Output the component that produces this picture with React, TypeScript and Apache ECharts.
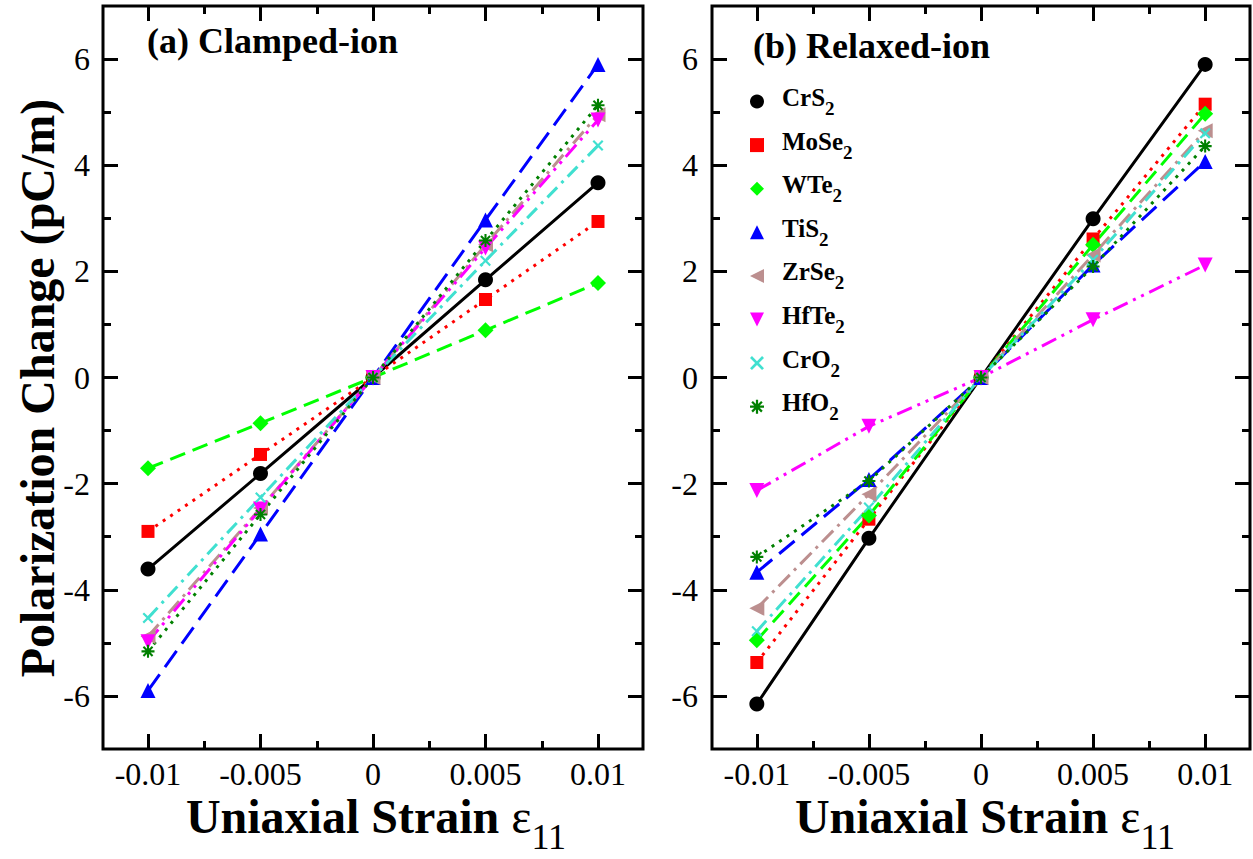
import React, { useEffect, useRef } from 'react';
import * as echarts from 'echarts';

// ---------- data ----------
const strains = [-0.01, -0.005, 0, 0.005, 0.01];
const materials = ['CrS2', 'MoSe2', 'WTe2', 'TiS2', 'ZrSe2', 'HfTe2', 'CrO2', 'HfO2'];

const clampedCrS2 = [-3.61, -1.81, 0, 1.84, 3.67];
const clampedMoSe2 = [-2.9, -1.45, 0, 1.47, 2.94];
const clampedWTe2 = [-1.71, -0.86, 0, 0.89, 1.78];
const clampedTiS2 = [-5.9, -2.95, 0, 2.97, 5.9];
const clampedZrSe2 = [-4.88, -2.46, 0, 2.5, 4.95];
const clampedHfTe2 = [-4.98, -2.48, 0, 2.44, 4.85];
const clampedCrO2 = [-4.53, -2.26, 0, 2.2, 4.37];
const clampedHfO2 = [-5.16, -2.58, 0, 2.58, 5.13];

const relaxedCrS2 = [-6.15, -3.03, 0, 2.99, 5.9];
const relaxedMoSe2 = [-5.37, -2.67, 0, 2.61, 5.15];
const relaxedWTe2 = [-4.95, -2.6, 0, 2.5, 4.97];
const relaxedTiS2 = [-3.67, -1.92, 0, 2.12, 4.07];
const relaxedZrSe2 = [-4.35, -2.2, 0, 2.31, 4.65];
const relaxedHfTe2 = [-2.13, -0.92, 0, 1.09, 2.12];
const relaxedCrO2 = [-4.78, -2.45, 0, 2.22, 4.6];
const relaxedHfO2 = [-3.38, -1.95, 0, 2.09, 4.36];

const clamped = [clampedCrS2, clampedMoSe2, clampedWTe2, clampedTiS2, clampedZrSe2, clampedHfTe2, clampedCrO2, clampedHfO2];
const relaxed = [relaxedCrS2, relaxedMoSe2, relaxedWTe2, relaxedTiS2, relaxedZrSe2, relaxedHfTe2, relaxedCrO2, relaxedHfO2];

const xTickLabels = [-0.01, -0.005, 0, 0.005, 0.01];
const xMinorTicks = [-0.0075, -0.0025, 0.0025, 0.0075];
const yTickLabels = [-6, -4, -2, 0, 2, 4, 6];
const yMinorTicks = [-5, -3, -1, 1, 3, 5];

// ---------- styles ----------
const SERIF = "'Liberation Serif', 'Times New Roman', serif";
const colors = ['#000000', '#ff0000', '#00ff00', '#0000ff', '#bc8f8f', '#ff00ff', '#40e0d0', '#008000'];
const dashes: any[] = ['solid', [3, 6], [16, 8], [20, 9], [16, 6, 3, 6], [16, 6, 3, 6, 3, 6], [14, 6, 3, 6], [3, 6]];
const X_PATH = 'path://M1.4,0L5,3.6L8.6,0L10,1.4L6.4,5L10,8.6L8.6,10L5,6.4L1.4,10L0,8.6L3.6,5L0,1.4Z';
const STAR_PATH =
  'path://M4.2,0L5.8,0L5.8,10L4.2,10Z M0,4.2L10,4.2L10,5.8L0,5.8Z ' +
  'M2.07,0.93L9.07,7.93L7.93,9.07L0.93,2.07Z M7.93,0.93L9.07,2.07L2.07,9.07L0.93,7.93Z';
const symbols = ['circle', 'rect', 'diamond', 'triangle', 'path://M0,5L10,0L10,10Z', 'path://M0,0L10,0L5,10Z', X_PATH, STAR_PATH];
const symbolSizes = [15, 13, 16, 15, 15, 15, 11, 13];

const grids = [
  { left: 103, top: 6, width: 540, height: 743 },
  { left: 712, top: 6, width: 538, height: 743 },
];

function tick(vals: number[], len: number) {
  return { show: true, inside: true, length: len, customValues: vals, lineStyle: { color: '#000', width: 3 } };
}

function axesFor(gi: number, labelMargin: number) {
  const cx = {
    gridIndex: gi, type: 'value', min: -0.012, max: 0.012,
    axisLine: { show: false, onZero: false }, splitLine: { show: false },
  };
  const cy = {
    gridIndex: gi, type: 'value', min: -7, max: 7,
    axisLine: { show: false, onZero: false }, splitLine: { show: false },
  };
  const xs = [
    {
      ...cx, position: 'bottom', axisTick: tick(xTickLabels, 15),
      axisLabel: {
        customValues: xTickLabels, formatter: (v: number) => String(v),
        fontSize: 32, fontFamily: SERIF, color: '#000', margin: 9,
      },
    },
    { ...cx, position: 'bottom', axisTick: tick(xMinorTicks, 8), axisLabel: { show: false } },
    { ...cx, position: 'top', axisTick: tick(xTickLabels, 15), axisLabel: { show: false } },
    { ...cx, position: 'top', axisTick: tick(xMinorTicks, 8), axisLabel: { show: false } },
  ];
  const ys = [
    {
      ...cy, position: 'left', axisTick: tick(yTickLabels, 15),
      axisLabel: {
        customValues: yTickLabels, formatter: (v: number) => String(v),
        fontSize: 32, fontFamily: SERIF, color: '#000', margin: labelMargin,
      },
    },
    { ...cy, position: 'left', axisTick: tick(yMinorTicks, 8), axisLabel: { show: false } },
    { ...cy, position: 'right', axisTick: tick(yTickLabels, 15), axisLabel: { show: false } },
    { ...cy, position: 'right', axisTick: tick(yMinorTicks, 8), axisLabel: { show: false } },
  ];
  return { xs, ys };
}

function seriesFor(gi: number, sets: number[][]) {
  return sets.map((vals, i) => ({
    type: 'line',
    name: materials[i],
    xAxisIndex: gi * 4,
    yAxisIndex: gi * 4,
    data: strains.map((s, k) => [s, vals[k]]),
    symbol: symbols[i],
    symbolSize: symbolSizes[i],
    showSymbol: true,
    itemStyle: { color: colors[i], borderWidth: 0 },
    lineStyle: { color: colors[i], width: 3, type: dashes[i] },
    emphasis: { disabled: true },
  }));
}

function xTitle(cx: number) {
  return {
    type: 'text', x: cx, y: 792,
    style: {
      text: '{a|Uniaxial Strain }{e|ε}{s|11}',
      align: 'center', verticalAlign: 'top',
      rich: {
        a: { fontSize: 48, fontWeight: 'bold', fontFamily: SERIF, fill: '#000', verticalAlign: 'top' },
        e: { fontSize: 48, fontFamily: SERIF, fill: '#000', verticalAlign: 'top' },
        s: { fontSize: 36, fontFamily: SERIF, fill: '#000', padding: [27, 0, 0, 0] },
      },
    },
  };
}

export default function App() {
  const ref = useRef<HTMLDivElement>(null);
  useEffect(() => {
    if (!ref.current) return;
    const chart = echarts.init(ref.current, undefined, { renderer: 'svg' });
    const a0 = axesFor(0, 13);
    const a1 = axesFor(1, 14);
    const option: any = {
      animation: false,
      backgroundColor: '#fff',
      grid: grids.map((g) => ({
        ...g, show: true, borderColor: '#000', borderWidth: 3, backgroundColor: 'transparent',
        containLabel: false, outerBoundsMode: 'none',
      })),
      xAxis: [...a0.xs, ...a1.xs],
      yAxis: [...a0.ys, ...a1.ys],
      legend: {
        orient: 'vertical', left: 745, top: 80, padding: 5,
        itemWidth: 14, itemHeight: 14, itemGap: 10.6,
        selectedMode: false,
        data: materials.map((m, i) => ({ name: m, icon: symbols[i], itemStyle: { color: colors[i] } })),
        formatter: (n: string) => n.replace(/^(.*?)(\d+)$/, '{m|$1}{s|$2}'),
        textStyle: {
          rich: {
            m: { fontSize: 25, fontWeight: 'bold', fontFamily: SERIF, color: '#000', verticalAlign: 'top', padding: [0, 0, 0, 13] },
            s: { fontSize: 19, fontWeight: 'bold', fontFamily: SERIF, color: '#000', padding: [14, 0, 0, 0] },
          },
        },
      },
      graphic: [
        {
          type: 'text', x: 147, y: 41,
          style: { text: '(a) Clamped-ion', fontSize: 36, fontWeight: 'bold', fontFamily: SERIF, fill: '#000', align: 'left', verticalAlign: 'middle' },
        },
        {
          type: 'text', x: 753, y: 46,
          style: { text: '(b) Relaxed-ion', fontSize: 36, fontWeight: 'bold', fontFamily: SERIF, fill: '#000', align: 'left', verticalAlign: 'middle' },
        },
        {
          type: 'text', x: 37, y: 388, rotation: Math.PI / 2,
          style: { text: 'Polarization Change (pC/m)', fontSize: 48, fontWeight: 'bold', fontFamily: SERIF, fill: '#000', align: 'center', verticalAlign: 'middle' },
        },
        xTitle(376),
        xTitle(985),
      ],
      series: [...seriesFor(0, clamped), ...seriesFor(1, relaxed)],
    };
    chart.setOption(option);
    return () => chart.dispose();
  }, []);
  return <div ref={ref} style={{ position: 'absolute', left: 0, top: 0, width: 1253, height: 859 }} />;
}
